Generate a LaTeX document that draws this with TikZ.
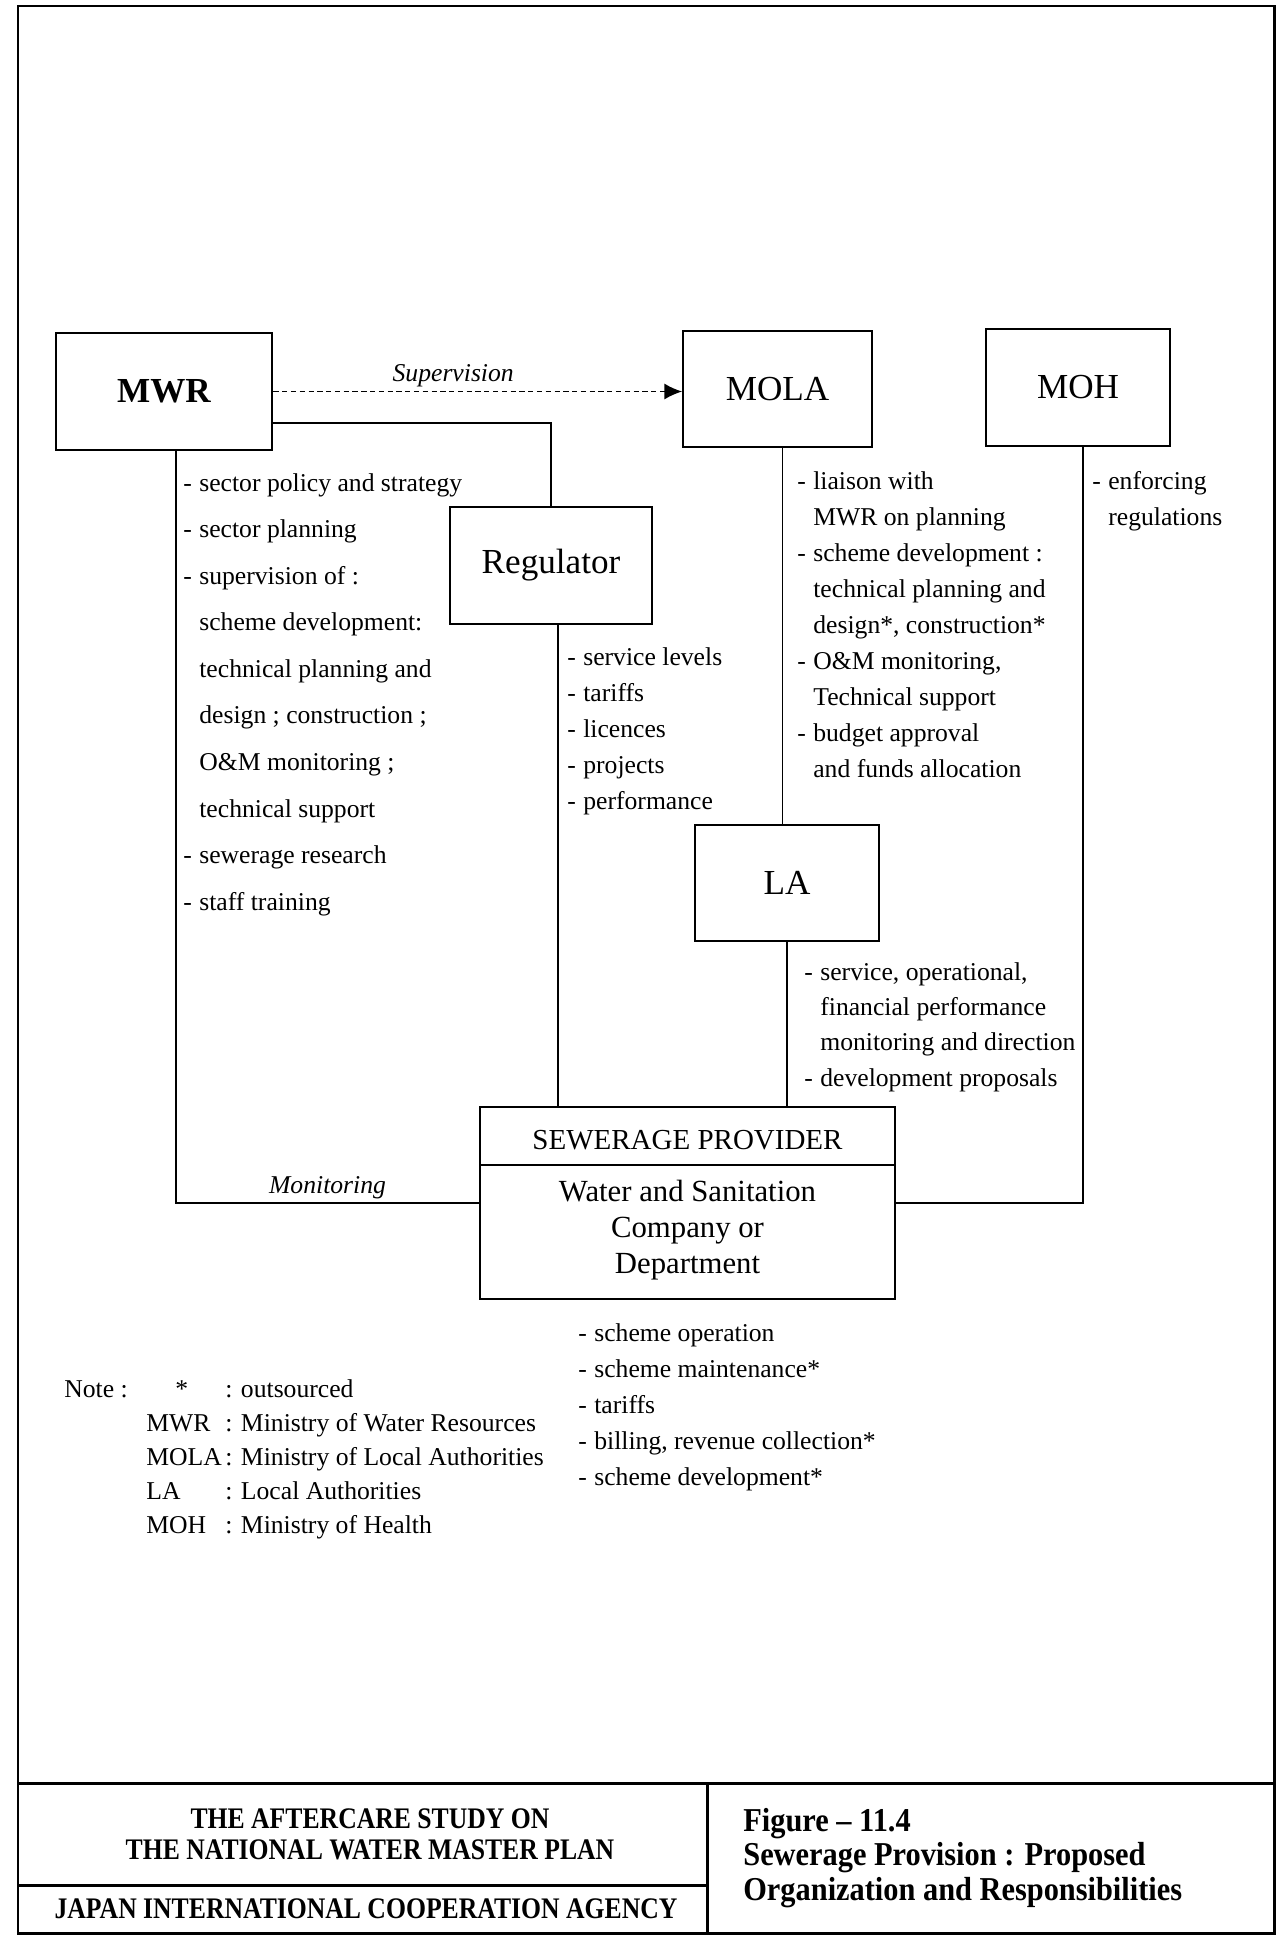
\documentclass[tikz,border=0pt]{standalone}
\usepackage{fontspec}
\setmainfont{Liberation Serif}
\newfontfamily\condfont[FakeStretch=0.86,Ligatures=TeX]{Liberation Serif}
\newfontfamily\figfont[FakeStretch=0.91,Ligatures=TeX]{Liberation Serif}
\usetikzlibrary{arrows.meta}

% dash of a duty item, and the indent of its follow-on lines
\newcommand{\bul}{\makebox[0.32cm][l]{-}}
\newcommand{\ind}{\hspace*{0.32cm}}

\begin{document}
\begin{tikzpicture}[
  x=0.02cm, y=-0.02cm, >={Latex[length=10pt,width=9pt]},
  font=\fontsize{14.6}{20.5}\selectfont,
  frame/.style={draw=black, line width=1.7pt},
  org/.style={draw=black, line width=1.1pt, minimum width=3.7cm,
    minimum height=2.34cm, inner sep=0pt, font=\fontsize{20}{24}\selectfont},
  link/.style={draw=black, line width=0.9pt},
  super/.style={->, line width=0.7pt, dash pattern=on 3pt off 2pt},
  duty/.style={anchor=north west, align=left, inner sep=0pt},
  tag/.style={font=\fontsize{14.6}{17}\selectfont\itshape, inner sep=2pt},
  banner/.style={font=\condfont\bfseries\fontsize{17}{17.6}\selectfont,
    align=center, inner sep=0pt}
]
  \useasboundingbox (0,0) rectangle (1282,1937);

  %% ============================================ page frame and title block
  \draw[frame] (18,6) rectangle (1274,1933);
  \draw[frame] (18,1783) -- (1274,1783);
  \draw[frame] (707,1783) -- (707,1933);
  \draw[frame] (18,1885) -- (707,1885);

  \node[banner] (study) at (370,1834.5)
    {THE AFTERCARE STUDY ON\\THE NATIONAL WATER MASTER PLAN};
  \node[banner] (agency) at (366,1909) {JAPAN INTERNATIONAL COOPERATION AGENCY};
  \node[duty, font=\figfont\bfseries\fontsize{19}{19.6}\selectfont] (figtitle)
    at (743,1808)
    {Figure \textendash\ 11.4\\Sewerage Provision : Proposed\\Organization and Responsibilities};

  %% ------------------------------------------------------- the ministries
  \node[org, minimum width=4.32cm, line width=1.6pt,
    font=\bfseries\fontsize{20}{24}\selectfont] (mwr) at (164,391.5) {MWR};
  \node[org, minimum width=3.78cm, minimum height=2.32cm] (mola) at (777.5,389) {MOLA};
  \node[org, minimum width=3.68cm] (moh) at (1078,387.5) {MOH};
  \node[org, minimum width=4.04cm] (reg) at (551,565.5) {Regulator};
  \node[org, minimum width=3.68cm, minimum height=2.32cm] (la) at (787,883) {LA};

  %% ------------------------------------------------ the sewerage provider
  \node[org, minimum width=8.3cm, minimum height=3.84cm] (prov) at (687.5,1203) {};
  \draw[link, line width=1.1pt] ([yshift=-1.18cm]prov.north west)
    -- ([yshift=-1.18cm]prov.north east);
  \node[font=\fontsize{16.5}{20}\selectfont] (provname) at (687.5,1140)
    {SEWERAGE PROVIDER};
  \node[align=center, font=\fontsize{17.5}{20.5}\selectfont] (provkind)
    at (687.5,1230.5) {Water and Sanitation\\Company or\\Department};

  %% ---------------------------------------------------------- connectors
  \draw[link, super] (mwr.east) -- (mwr.east -| mola.west)
    node[tag, pos=0.44, above] {Supervision};
  \draw[link] ([yshift=-0.63cm]mwr.east) -| (reg.north);
  \draw[link] ([xshift=0.24cm]mwr.south) |- (prov.west)
    node[tag, pos=0.75, above] {Monitoring};
  \draw[link] ([xshift=0.14cm]reg.south) -- ([xshift=0.14cm]reg.south |- prov.north);
  \draw[link] ([xshift=0.1cm]mola.south) -- ([xshift=0.1cm]mola.south |- la.north);
  \draw[link] (la.south) -- (la.south |- prov.north);
  \draw[link] ([xshift=0.1cm]moh.south) |- (prov.east);

  %% ------------------------------------------------------ responsibilities
  \node[duty, font=\fontsize{14.6}{26.5}\selectfont] (mwrduty) at (183,473)
    {\bul sector policy and strategy\\
     \bul sector planning\\
     \bul supervision of :\\
     \ind scheme development:\\
     \ind technical planning and\\
     \ind design ; construction ;\\
     \ind O\&M monitoring ;\\
     \ind technical support\\
     \bul sewerage research\\
     \bul staff training};

  \node[duty, font=\fontsize{14.6}{20.6}\selectfont] (regduty) at (567,647)
    {\bul service levels\\
     \bul tariffs\\
     \bul licences\\
     \bul projects\\
     \bul performance};

  \node[duty] (moladuty) at (797,471)
    {\bul liaison with\\
     \ind MWR on planning\\
     \bul scheme development :\\
     \ind technical planning and\\
     \ind design*, construction*\\
     \bul O\&M monitoring,\\
     \ind Technical support\\
     \bul budget approval\\
     \ind and funds allocation};

  \node[duty] (mohduty) at (1092,471)
    {\bul enforcing\\
     \ind regulations};

  \node[duty, font=\fontsize{14.6}{20.1}\selectfont] (laduty) at (804,962)
    {\bul service, operational,\\
     \ind financial performance\\
     \ind monitoring and direction\\
     \bul development proposals};

  \node[duty, font=\fontsize{14.6}{20.6}\selectfont] (provduty) at (578,1323)
    {\bul scheme operation\\
     \bul scheme maintenance*\\
     \bul tariffs\\
     \bul billing, revenue collection*\\
     \bul scheme development*};

  %% ---------------------------------------------------------------- note
  \node[duty, font=\fontsize{14.6}{19.35}\selectfont] (note) at (64,1379)
    {\makebox[1.64cm][l]{Note :}\makebox[1.58cm][l]{\hspace{0.58cm}*}: outsourced\\
     \hspace*{1.64cm}\makebox[1.58cm][l]{MWR}: Ministry of Water Resources\\
     \hspace*{1.64cm}\makebox[1.58cm][l]{MOLA}: Ministry of Local Authorities\\
     \hspace*{1.64cm}\makebox[1.58cm][l]{LA}: Local Authorities\\
     \hspace*{1.64cm}\makebox[1.58cm][l]{MOH}: Ministry of Health};

\end{tikzpicture}
\end{document}
